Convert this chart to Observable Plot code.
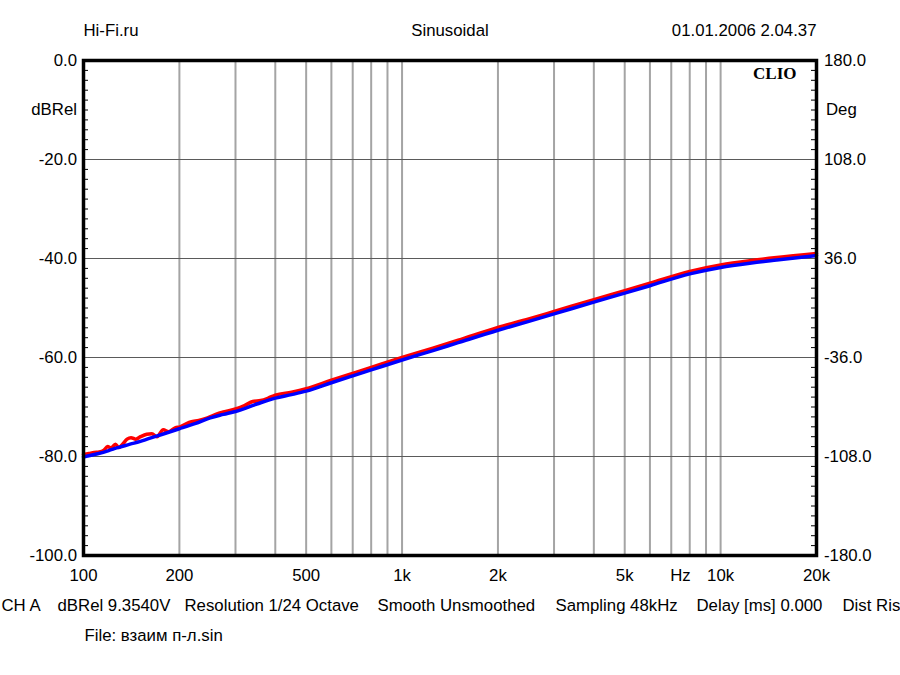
<!DOCTYPE html>
<html>
<head>
<meta charset="utf-8">
<script src="https://cdn.jsdelivr.net/npm/d3@7"></script>
<script src="https://cdn.jsdelivr.net/npm/@observablehq/plot@0.6"></script>
<style>
  html, body { margin: 0; padding: 0; background: #fff; overflow: hidden; }
</style>
</head>
<body>
<div id="chart"></div>
<script>
// ---- data ----
const blueFreq = [100,110,120,125,130,140,150,160,175,200,225,250,275,300,350,400,450,500,600,700,800,1000,1250,1500,2000,2500,3000,4000,5000,6000,8000,10000,12500,15000,20000];
const blueDb   = [-80.1,-79.5,-78.8,-78.4,-78.1,-77.5,-77.0,-76.4,-75.6,-74.4,-73.3,-72.2,-71.5,-70.9,-69.4,-68.2,-67.5,-66.8,-65.1,-63.7,-62.5,-60.5,-58.6,-57.0,-54.5,-52.7,-51.2,-48.8,-47.0,-45.5,-43.1,-41.8,-40.9,-40.3,-39.4];

const redFreq = [100,104,108,112,116,119,122,126,129,132,137,141,146,151,158,164,170,178,185,194,201,210,217,230,245,260,275,300,320,340,360,380,400,450,500,600,700,800,1000,1250,1500,2000,2500,3000,4000,5000,6000,8000,10000,12500,15000,20000];
const redDb   = [-79.6,-79.4,-79.2,-79.1,-78.7,-78.0,-78.3,-77.5,-78.2,-77.7,-76.5,-76.2,-76.5,-76.0,-75.5,-75.4,-76.0,-74.6,-75.0,-74.2,-74.0,-73.4,-73.0,-72.7,-72.2,-71.5,-71.0,-70.4,-69.7,-68.9,-68.7,-68.2,-67.6,-67.0,-66.3,-64.6,-63.2,-62.0,-60.0,-58.1,-56.5,-53.9,-52.2,-50.7,-48.3,-46.5,-45.0,-42.6,-41.3,-40.4,-39.8,-39.0];

const xTickValues = [100,200,500,1000,2000,5000,10000,20000];
const xTickLabels = ["100","200","500","1k","2k","5k","10k","20k"];
const yTickValues = [0,-20,-40,-60,-80,-100];
const yTickLabels = ["0.0","-20.0","-40.0","-60.0","-80.0","-100.0"];
const degTickLabels = ["180.0","108.0","36.0","-36.0","-108.0","-180.0"];
const xGrid = [200,300,400,500,600,700,800,900,1000,2000,3000,4000,5000,6000,7000,8000,9000,10000];
const yGrid = [-20,-40,-60,-80];
const minorTicks = d3.range(-98, 0, 2).filter(v => v % 20 !== 0);

const titleLeft = "Hi-Fi.ru";
const titleCenter = "Sinusoidal";
const titleRight = "01.01.2006 2.04.37";
const brand = "CLIO";
const yUnitLeft = "dBRel";
const yUnitRight = "Deg";
const xUnit = "Hz";
const infoTexts = ["CH A","dBRel 9.3540V","Resolution 1/24 Octave","Smooth Unsmoothed","Sampling 48kHz","Delay [ms] 0.000","Dist Ris"];
const fileText = "File: взаим п-л.sin";

// ---- layout ----
const W = 900, H = 675;
const mL = 83, mR = 84, mT = 60, mB = 120;
const frameW = W - mL - mR;
const infoX = [1, 57, 184, 377, 555, 696, 842];
const unitY = -10;     // dB level where unit labels sit
const hzAt = 7480;     // frequency where "Hz" label sits

const blue = blueFreq.map((f, i) => ({f, db: blueDb[i]}));
const red = redFreq.map((f, i) => ({f, db: redDb[i]}));
const xLab = new Map(xTickValues.map((v, i) => [v, xTickLabels[i]]));
const yLab = new Map(yTickValues.map((v, i) => [v, yTickLabels[i]]));
const dLab = new Map(yTickValues.map((v, i) => [v, degTickLabels[i]]));

const font = "'Liberation Sans', Arial, sans-serif";
const fs = 16.8;

const chart = Plot.plot({
  width: W, height: H,
  marginLeft: mL, marginRight: mR, marginTop: mT, marginBottom: mB,
  style: {fontFamily: font, fontSize: fs + "px", color: "#000", background: "#fff"},
  x: {type: "log", domain: [100, 20000], axis: null},
  y: {domain: [-100, 0], axis: null},
  marks: [
    Plot.ruleX(xGrid, {stroke: "#a4a4a4", strokeWidth: 2}),
    Plot.ruleY(yGrid, {stroke: "#5a5a5a", strokeWidth: 1}),
    Plot.line(red, {x: "f", y: "db", stroke: "#ff0000", strokeWidth: 3.5, curve: "monotone-x"}),
    Plot.line(blue, {x: "f", y: "db", stroke: "#0000ff", strokeWidth: 3.5, curve: "monotone-x"}),
    Plot.frame({stroke: "#000", strokeWidth: 3.5}),
    Plot.tickY(minorTicks, {y: d => d, stroke: "#000", strokeWidth: 1, insetRight: frameW - 5}),
    Plot.tickY(minorTicks, {y: d => d, stroke: "#000", strokeWidth: 1, insetLeft: frameW - 5}),
    Plot.axisX({anchor: "bottom", label: null, ticks: xTickValues, tickSize: 0, tickPadding: 20.5, lineAnchor: "middle", tickFormat: d => xLab.get(d), fontSize: fs}),
    Plot.axisY({anchor: "left", label: null, ticks: yTickValues, tickSize: 0, tickPadding: 6.5, tickFormat: d => yLab.get(d), fontSize: fs}),
    Plot.axisY({anchor: "right", label: null, ticks: yTickValues, tickSize: 0, tickPadding: 7.5, tickFormat: d => dLab.get(d), fontSize: fs}),
    Plot.text([yUnitLeft], {x: 100, y: unitY, text: d => d, dx: -6.5, textAnchor: "end", fontSize: fs}),
    Plot.text([yUnitRight], {x: 20000, y: unitY, text: d => d, dx: 9.5, textAnchor: "start", fontSize: fs}),
    Plot.text([xUnit], {x: hzAt, y: -100, text: d => d, dy: 20.5, fontSize: fs}),
    Plot.text([titleLeft], {frameAnchor: "top-left", text: d => d, dy: -30, textAnchor: "start", lineAnchor: "middle", fontSize: fs}),
    Plot.text([titleCenter], {frameAnchor: "top", text: d => d, dy: -30, lineAnchor: "middle", fontSize: fs}),
    Plot.text([titleRight], {frameAnchor: "top-right", text: d => d, dy: -30, textAnchor: "end", lineAnchor: "middle", fontSize: fs}),
    Plot.text([brand], {frameAnchor: "top-right", text: d => d, dx: -20, dy: 13.5, textAnchor: "end", lineAnchor: "middle", fontFamily: "'Liberation Serif', 'Times New Roman', serif", fontWeight: "bold", fontSize: 17}),
    ...infoTexts.map((t, i) => Plot.text([t], {frameAnchor: "bottom-left", text: d => d, dx: infoX[i] - mL, dy: 50.5, textAnchor: "start", lineAnchor: "middle", fontSize: fs})),
    Plot.text([fileText], {frameAnchor: "bottom-left", text: d => d, dx: 1, dy: 80.5, textAnchor: "start", lineAnchor: "middle", fontSize: fs})
  ]
});
document.getElementById("chart").append(chart);
</script>
</body>
</html>
